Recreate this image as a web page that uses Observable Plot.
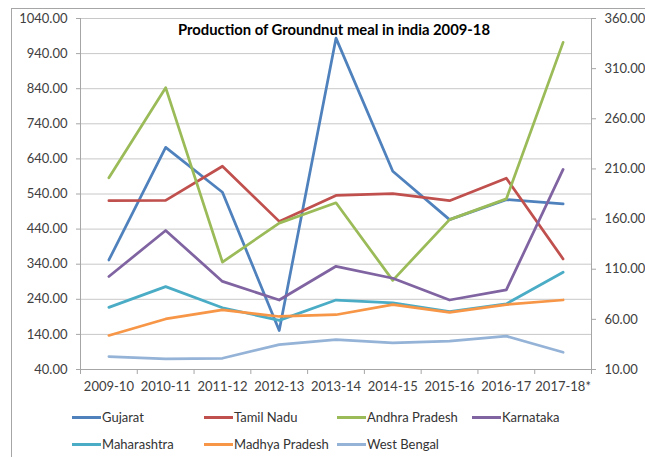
<!DOCTYPE html>
<html>
<head>
<meta charset="utf-8">
<script src="https://cdn.jsdelivr.net/npm/d3@7"></script>
<script src="https://cdn.jsdelivr.net/npm/@observablehq/plot@0.6"></script>
<style>
  html, body { margin: 0; padding: 0; background: #fff; }
  #wrap { position: relative; width: 645px; height: 457px; overflow: hidden; font-family: Lato, sans-serif; }
  #border { position: absolute; left: 11px; top: 8px; width: 700px; height: 520px; border: 1px solid #a6a6a6; box-sizing: border-box; }
  #chart { position: absolute; left: 0; top: 0; }
  .leg { position: absolute; display: flex; align-items: center; font-size: 13px; color: #333; white-space: nowrap; }
  .leg span.sw { display: inline-block; width: 29px; height: 3px; margin-right: 1px; }
</style>
</head>
<body>
<div id="wrap"><div id="border"></div><div id="chart"></div></div>
<script>
const title = "Production of Groundnut meal in india 2009-18";
const categories = ["2009-10","2010-11","2011-12","2012-13","2013-14","2014-15","2015-16","2016-17","2017-18*"];
const seriesNames = ["Gujarat","Tamil Nadu","Andhra Pradesh","Karnataka","Maharashtra","Madhya Pradesh","West Bengal"];
const seriesColors = ["#4f81bd","#c0504d","#9bbb59","#8064a2","#4bacc6","#f79646","#95b3d7"];
const gujarat       = [352, 673, 545, 151, 984, 605, 467, 524, 512];
const tamilNadu     = [521, 522, 619, 462, 536, 541, 521, 585, 355];
const andhraPradesh = [586, 843, 346, 457, 515, 294, 467, 526, 972];
const karnataka     = [305, 436, 291, 238, 334, 300, 238, 267, 610];
const maharashtra   = [217, 276, 216, 180, 238, 230, 205, 227, 317];
const madhyaPradesh = [137, 184, 210, 191, 196, 225, 203, 225, 238];
const westBengal    = [ 77,  70,  72, 111, 125, 116, 121, 135,  89];
const leftTicks  = [40,140,240,340,440,540,640,740,840,940,1040];
const rightTicks = [10,60,110,160,210,260,310,360];

const seriesValues = [gujarat, tamilNadu, andhraPradesh, karnataka, maharashtra, madhyaPradesh, westBengal];
const rows = seriesNames.flatMap((name, s) => seriesValues[s].map((v, i) => ({series: name, i: i + 0.5, value: v})));

// secondary axis maps [10,360] onto the primary [40,1040]
const toLeft = r => 40 + (r - 10) * (1000 / 350);
const toRight = l => 10 + (l - 40) * (350 / 1000);

const axisColor = "#a6a6a6";
const textColor = "#404040";
const n = categories.length;

const chart = Plot.plot({
  width: 645,
  height: 400,
  marginTop: 18,
  marginBottom: 31,
  marginLeft: 80,
  marginRight: 54,
  style: {fontFamily: "Lato, sans-serif", fontSize: "13px", background: "transparent"},
  x: {type: "linear", domain: [0, n], axis: null},
  y: {domain: [40, 1040], axis: null},
  color: {domain: seriesNames, range: seriesColors},
  marks: [
    Plot.gridY(leftTicks.slice(1), {stroke: "#c8c8c8", strokeOpacity: 1, strokeWidth: 1}),
    Plot.axisY({anchor: "left", ticks: leftTicks, tickFormat: d => d.toFixed(2), tickSize: 4, tickPadding: 9, stroke: axisColor, fill: textColor, fontSize: 13, label: null}),
    Plot.axisY({anchor: "right", ticks: rightTicks.map(toLeft), tickFormat: d => toRight(d).toFixed(2), tickSize: 4, tickPadding: 9, stroke: axisColor, fill: textColor, fontSize: 13, label: null}),
    Plot.axisX({ticks: d3.range(n + 1), tickFormat: () => "", tickSize: 5, stroke: axisColor, label: null}),
    Plot.axisX({ticks: d3.range(n).map(i => i + 0.5), tickFormat: d => categories[Math.floor(d)], tickSize: 0, tickPadding: 12, fill: textColor, fontSize: 13, label: null}),
    Plot.ruleX([0, n], {stroke: axisColor}),
    Plot.ruleY([40], {stroke: axisColor}),
    Plot.line(rows, {x: "i", y: "value", z: "series", stroke: "series", strokeWidth: 2.75, strokeLinejoin: "round"}),
    Plot.text([title], {frameAnchor: "top", dy: 12, dx: -2, lineAnchor: "middle", fontWeight: "bold", fontSize: 14.8, fill: "#000"})
  ]
});
document.getElementById("chart").appendChild(chart);

// legend below the SVG (two rows, Excel-style)
const legendCols = [72, 204, 337, 472];
const legendRowsY = [417, 444];
const legendLayout = [[0,0],[1,0],[2,0],[3,0],[0,1],[1,1],[2,1]];
const wrap = document.getElementById("wrap");
seriesNames.forEach((name, k) => {
  const [c, r] = legendLayout[k];
  const el = document.createElement("div");
  el.className = "leg";
  el.style.left = legendCols[c] + "px";
  el.style.top = (legendRowsY[r] - 9) + "px";
  el.style.height = "18px";
  el.innerHTML = `<span class="sw" style="background:${seriesColors[k]}"></span><span>${name}</span>`;
  wrap.appendChild(el);
});
</script>
</body>
</html>
